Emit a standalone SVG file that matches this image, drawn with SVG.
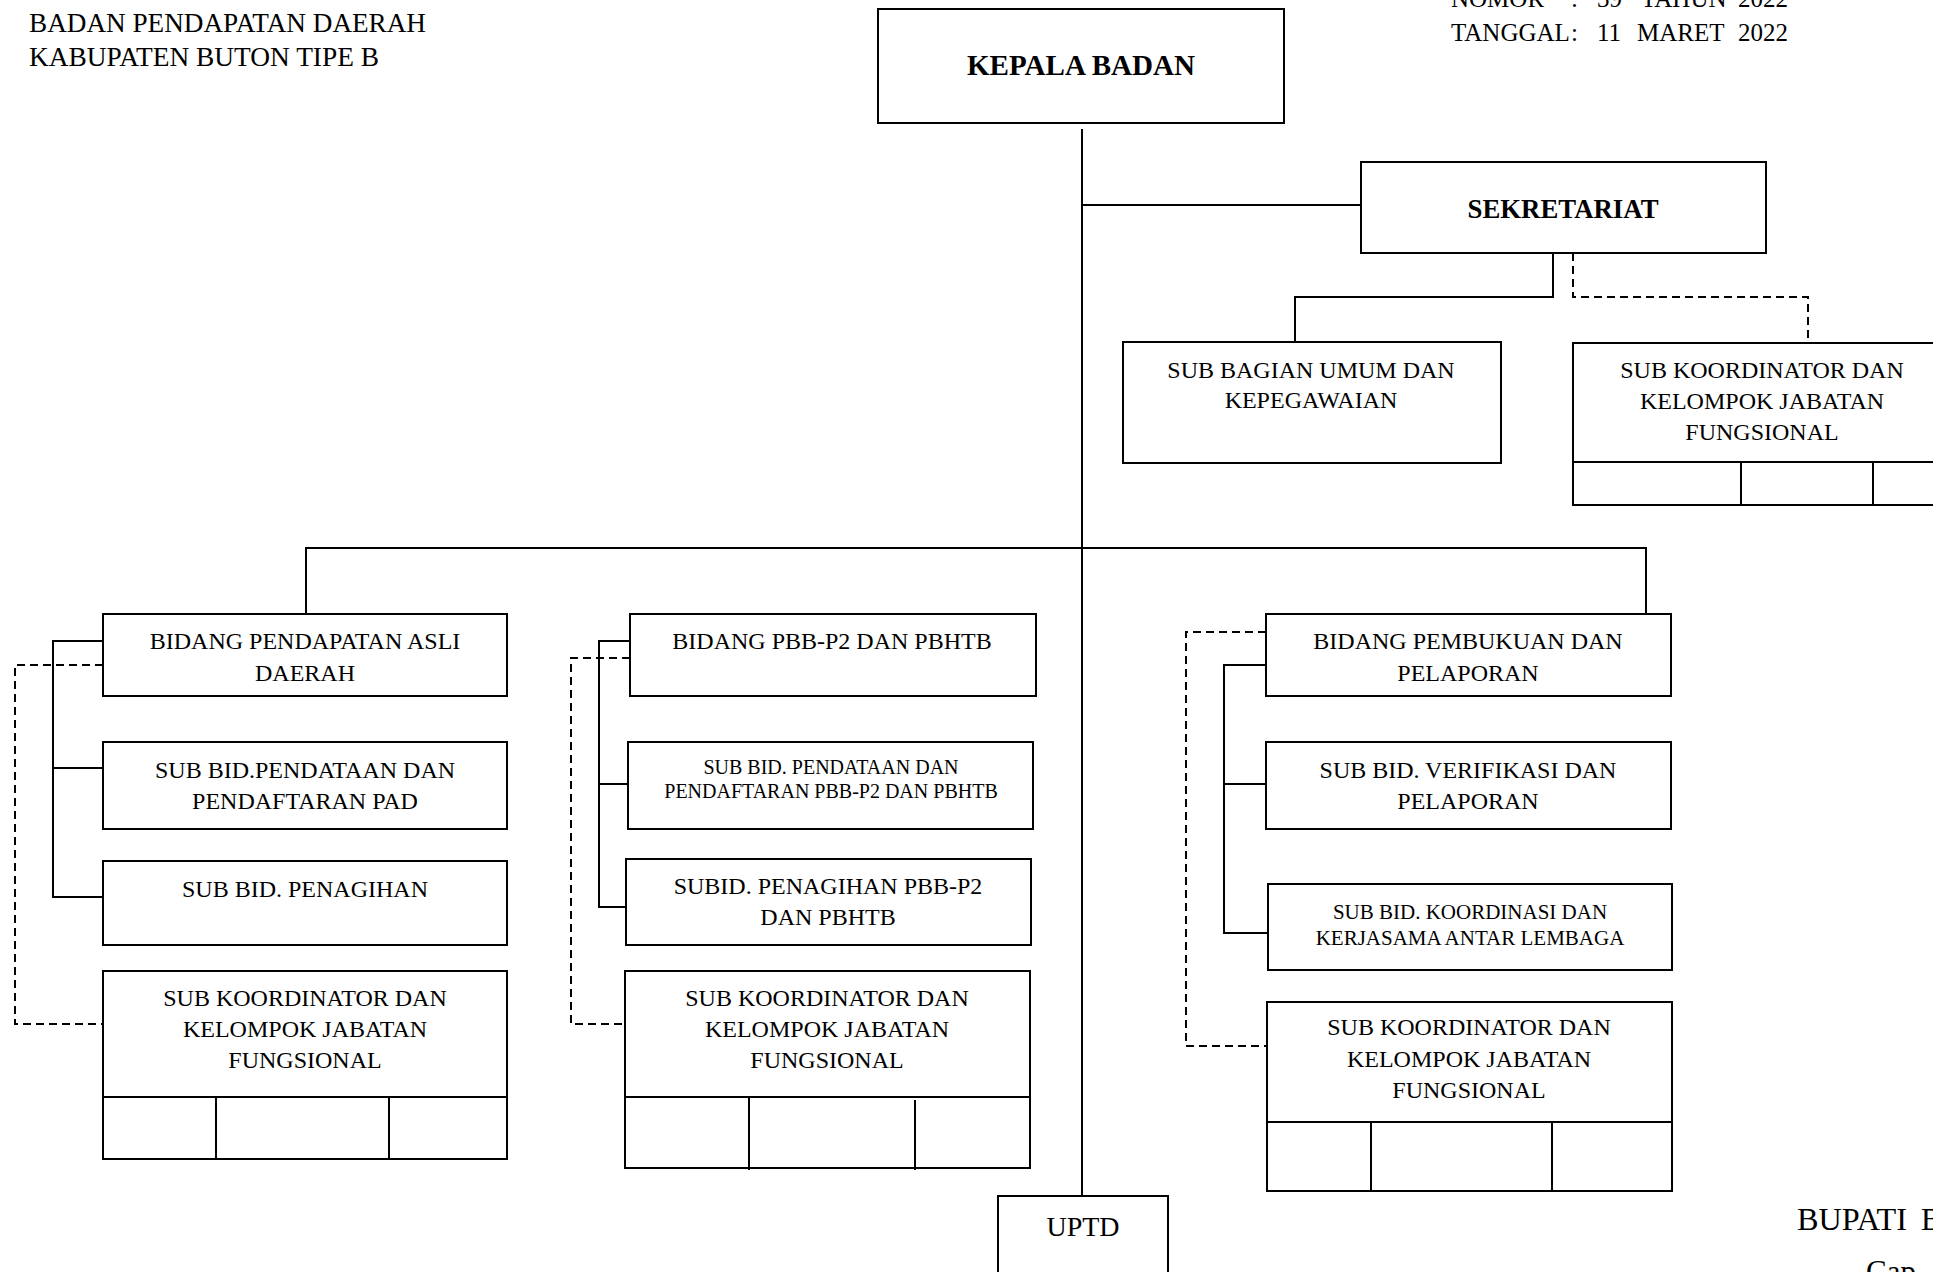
<svg xmlns="http://www.w3.org/2000/svg" width="1933" height="1272" viewBox="0 0 1933 1272">
<style>
text{font-family:"Liberation Serif","Times New Roman",serif;fill:#000}
.t{font-size:24px;text-anchor:middle}
.s{font-size:20px;text-anchor:middle}
.h{font-size:27px}
.b{font-weight:bold;text-anchor:middle}
.box{fill:#fff;stroke:#000;stroke-width:2}
.ln{fill:none;stroke:#000;stroke-width:2}
.ds{fill:none;stroke:#000;stroke-width:2;stroke-dasharray:8 5}
</style>
<rect width="1933" height="1272" fill="#fff"/>
<g id="header">
<text class="h" x="29" y="32" textLength="397" lengthAdjust="spacingAndGlyphs">BADAN PENDAPATAN DAERAH</text>
<text class="h" x="29" y="66" textLength="350" lengthAdjust="spacingAndGlyphs">KABUPATEN BUTON TIPE B</text>
<text style="font-size:25px" y="7"><tspan x="1451">NOMOR</tspan><tspan x="1571">:</tspan><tspan x="1597">39</tspan><tspan x="1641">TAHUN</tspan><tspan x="1738">2022</tspan></text>
<text style="font-size:25px" y="41"><tspan x="1451">TANGGAL</tspan><tspan x="1571">:</tspan><tspan x="1597">11</tspan><tspan x="1637">MARET</tspan><tspan x="1738">2022</tspan></text>
<text style="font-size:31px" y="1230"><tspan x="1797" textLength="110" lengthAdjust="spacingAndGlyphs">BUPATI</tspan><tspan x="1921">BUTON</tspan></text>
<text style="font-size:31px" x="1866" y="1282">Cap</text>
</g>
<g id="connectors">
<path class="ln" d="M1082,129 V1196"/>
<path class="ln" d="M1082,205 H1361"/>
<path class="ln" d="M1553,253 V297 H1295 V342"/>
<path class="ds" d="M1573,253 V297 H1808 V343"/>
<path class="ln" d="M306,613 V548 H1646 V613"/>
<path class="ln" d="M103,641 H53 V897 H103 M53,768 H103"/>
<path class="ds" d="M103,665 H15 V1024 H103"/>
<path class="ln" d="M630,641 H599 V907 H626 M599,784 H628"/>
<path class="ds" d="M630,658 H571 V1024 H625"/>
<path class="ln" d="M1266,665 H1224 V933 H1268 M1224,784 H1266"/>
<path class="ds" d="M1266,632 H1186 V1046 H1267"/>
</g>
<g id="kepala">
<rect class="box" x="878" y="9" width="406" height="114"/>
<text class="b" x="1081" y="75" style="font-size:29px" textLength="228" lengthAdjust="spacingAndGlyphs">KEPALA BADAN</text>
</g>
<g id="sekretariat">
<rect class="box" x="1361" y="162" width="405" height="91"/>
<text class="b" x="1563" y="218" style="font-size:28px" textLength="191" lengthAdjust="spacingAndGlyphs">SEKRETARIAT</text>
</g>
<g id="subbag-umum">
<rect class="box" x="1123" y="342" width="378" height="121"/>
<text class="t" x="1311" y="378">SUB BAGIAN UMUM DAN</text>
<text class="t" x="1311" y="408">KEPEGAWAIAN</text>
</g>
<g id="jf-sekretariat">
<rect class="box" x="1573" y="343" width="378" height="162"/>
<path class="ln" d="M1573,462 H1951 M1741,462 V505 M1873,462 V505"/>
<text class="t" x="1762" y="378">SUB KOORDINATOR DAN</text>
<text class="t" x="1762" y="409">KELOMPOK JABATAN</text>
<text class="t" x="1762" y="440">FUNGSIONAL</text>
</g>
<g id="bidang-pad">
<rect class="box" x="103" y="614" width="404" height="82"/>
<text class="t" x="305" y="649">BIDANG PENDAPATAN ASLI</text>
<text class="t" x="305" y="681">DAERAH</text>
</g>
<g id="sub-pendataan-pad">
<rect class="box" x="103" y="742" width="404" height="87"/>
<text class="t" x="305" y="778">SUB BID.PENDATAAN DAN</text>
<text class="t" x="305" y="809">PENDAFTARAN PAD</text>
</g>
<g id="sub-penagihan">
<rect class="box" x="103" y="861" width="404" height="84"/>
<text class="t" x="305" y="897">SUB BID. PENAGIHAN</text>
</g>
<g id="jf-pad">
<rect class="box" x="103" y="971" width="404" height="188"/>
<path class="ln" d="M103,1097 H507 M216,1097 V1159 M389,1097 V1159"/>
<text class="t" x="305" y="1006">SUB KOORDINATOR DAN</text>
<text class="t" x="305" y="1037">KELOMPOK JABATAN</text>
<text class="t" x="305" y="1068">FUNGSIONAL</text>
</g>
<g id="bidang-pbb">
<rect class="box" x="630" y="614" width="406" height="82"/>
<text class="t" x="832" y="649">BIDANG PBB-P2 DAN PBHTB</text>
</g>
<g id="sub-pendataan-pbb">
<rect class="box" x="628" y="742" width="405" height="87"/>
<text class="s" x="831" y="774">SUB BID. PENDATAAN DAN</text>
<text class="s" x="831" y="798">PENDAFTARAN PBB-P2 DAN PBHTB</text>
</g>
<g id="sub-penagihan-pbb">
<rect class="box" x="626" y="859" width="405" height="86"/>
<text class="t" x="828" y="894">SUBID. PENAGIHAN PBB-P2</text>
<text class="t" x="828" y="925">DAN PBHTB</text>
</g>
<g id="jf-pbb">
<rect class="box" x="625" y="971" width="405" height="197"/>
<path class="ln" d="M625,1097 H1030 M749,1097 V1170 M915,1100 V1170"/>
<text class="t" x="827" y="1006">SUB KOORDINATOR DAN</text>
<text class="t" x="827" y="1037">KELOMPOK JABATAN</text>
<text class="t" x="827" y="1068">FUNGSIONAL</text>
</g>
<g id="bidang-pembukuan">
<rect class="box" x="1266" y="614" width="405" height="82"/>
<text class="t" x="1468" y="649">BIDANG PEMBUKUAN DAN</text>
<text class="t" x="1468" y="681">PELAPORAN</text>
</g>
<g id="sub-verifikasi">
<rect class="box" x="1266" y="742" width="405" height="87"/>
<text class="t" x="1468" y="778">SUB BID. VERIFIKASI DAN</text>
<text class="t" x="1468" y="809">PELAPORAN</text>
</g>
<g id="sub-koordinasi">
<rect class="box" x="1268" y="884" width="404" height="86"/>
<text class="t" x="1470" y="919" style="font-size:21px">SUB BID. KOORDINASI DAN</text>
<text class="t" x="1470" y="945" style="font-size:21px">KERJASAMA ANTAR LEMBAGA</text>
</g>
<g id="jf-pembukuan">
<rect class="box" x="1267" y="1002" width="405" height="189"/>
<path class="ln" d="M1267,1122 H1672 M1371,1122 V1191 M1552,1122 V1191"/>
<text class="t" x="1469" y="1035">SUB KOORDINATOR DAN</text>
<text class="t" x="1469" y="1067">KELOMPOK JABATAN</text>
<text class="t" x="1469" y="1098">FUNGSIONAL</text>
</g>
<g id="uptd">
<rect class="box" x="998" y="1196" width="170" height="100"/>
<text class="t" x="1083" y="1236" style="font-size:28px">UPTD</text>
</g>
</svg>
